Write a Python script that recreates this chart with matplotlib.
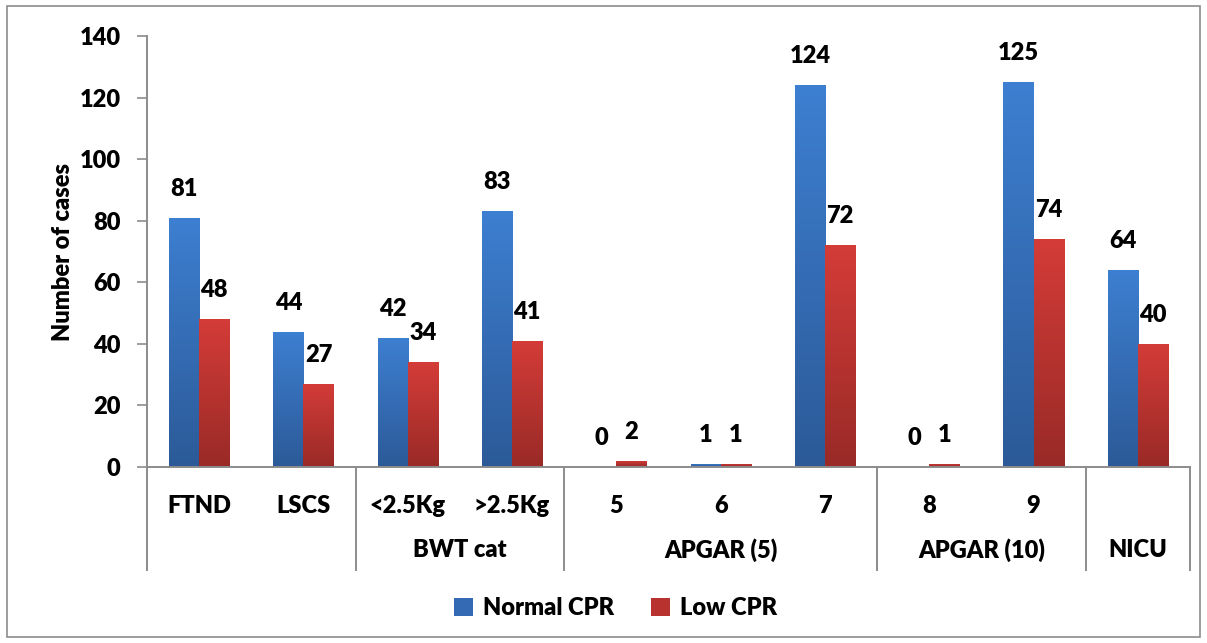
import matplotlib.pyplot as plt
import numpy as np
from matplotlib import font_manager as fm
from matplotlib.colors import LinearSegmentedColormap
from matplotlib.patches import Patch, Rectangle
import matplotlib.transforms as mtransforms

categories = ["FTND", "LSCS", "<2.5Kg", ">2.5Kg", "5", "6", "7", "8", "9", ""]
groups = [("", 0, 1), ("BWT cat", 2, 3), ("APGAR (5)", 4, 6), ("APGAR (10)", 7, 8), ("NICU", 9, 9)]
normal_cpr = [81, 44, 42, 83, 0, 1, 124, 0, 125, 64]
low_cpr = [48, 27, 34, 41, 2, 1, 72, 1, 74, 40]

# heavy Lato file, closest to the chunky bold used in the chart
heavy = [f.fname for f in fm.fontManager.ttflist
         if f.name == "Lato" and f.weight == 800 and f.style == "normal"]
if heavy:
    fp = fm.FontProperties(fname=heavy[0], size=17)
else:
    fp = fm.FontProperties(family="Lato", weight="heavy", size=17)

fig = plt.figure(figsize=(12.07, 6.43), dpi=100)
ax = fig.add_axes([0.1218, 0.2737, 0.8641, 0.6703])

gray = "#8c8c8c"
blue_cm = LinearSegmentedColormap.from_list("b", ["#2c5a98", "#3d7fd1"])
red_cm = LinearSegmentedColormap.from_list("r", ["#992a27", "#d43c38"])

x = np.arange(len(categories))
w = 0.288
b1 = ax.bar(x - w / 2, normal_cpr, w, color="none", edgecolor="none")
b2 = ax.bar(x + w / 2, low_cpr, w, color="none", edgecolor="none")

# vertical gradient fill clipped to each bar
grad = np.linspace(0, 1, 256).reshape(-1, 1)
for bars, cm in ((b1, blue_cm), (b2, red_cm)):
    for bar in bars:
        h = bar.get_height()
        if h <= 0:
            continue
        x0 = bar.get_x()
        im = ax.imshow(grad, cmap=cm, origin="lower", aspect="auto",
                       extent=[x0, x0 + bar.get_width(), 0, h], zorder=2)
        im.set_clip_path(bar)

for bars, vals in ((b1, normal_cpr), (b2, low_cpr)):
    for bar, v in zip(bars, vals):
        ax.annotate(str(v), (bar.get_x() + bar.get_width() / 2, v),
                    xytext=(0, 18), textcoords="offset pixels",
                    ha="center", va="bottom", fontproperties=fp)

ax.set_xlim(-0.5, len(categories) - 0.5)
ax.set_ylim(0, 140)
ax.set_yticks(range(0, 141, 20))
ax.tick_params(axis="y", length=7, width=1.2, color=gray, pad=12)
ax.set_xticks(x)
ax.set_xticklabels(categories)
ax.tick_params(axis="x", length=0, pad=20)
for lbl in ax.get_xticklabels() + ax.get_yticklabels():
    lbl.set_fontproperties(fp)
for s in ("top", "right"):
    ax.spines[s].set_visible(False)
for s in ("left", "bottom"):
    ax.spines[s].set_color(gray)
    ax.spines[s].set_linewidth(1.4)
ax.set_ylabel("Number of cases", fontproperties=fp, labelpad=4)

# second row of category labels and separators
trans = mtransforms.blended_transform_factory(ax.transData, ax.transAxes)
bounds = [-0.5] + [g[2] + 0.5 for g in groups]
for b in bounds:
    ax.plot([b, b], [0, -0.24], transform=trans, color=gray, lw=1.4, clip_on=False)
for name, i0, i1 in groups:
    ax.text((i0 + i1) / 2, -0.193, name, transform=trans, ha="center", va="center",
            fontproperties=fp)

handles = [Patch(facecolor="#3469b3", label="Normal CPR"),
           Patch(facecolor="#b8332f", label="Low CPR")]
fig.legend(handles=handles, loc="center", bbox_to_anchor=(0.51, 0.054), ncol=2,
           frameon=False, prop=fp,
           handlelength=0.8, handleheight=0.8, handletextpad=0.4, columnspacing=1.6)

fig.add_artist(Rectangle((0.006, 0.01), 0.988, 0.98, transform=fig.transFigure,
                         fill=False, edgecolor=gray, lw=1.2))

fig.savefig("out.png", dpi=100)
